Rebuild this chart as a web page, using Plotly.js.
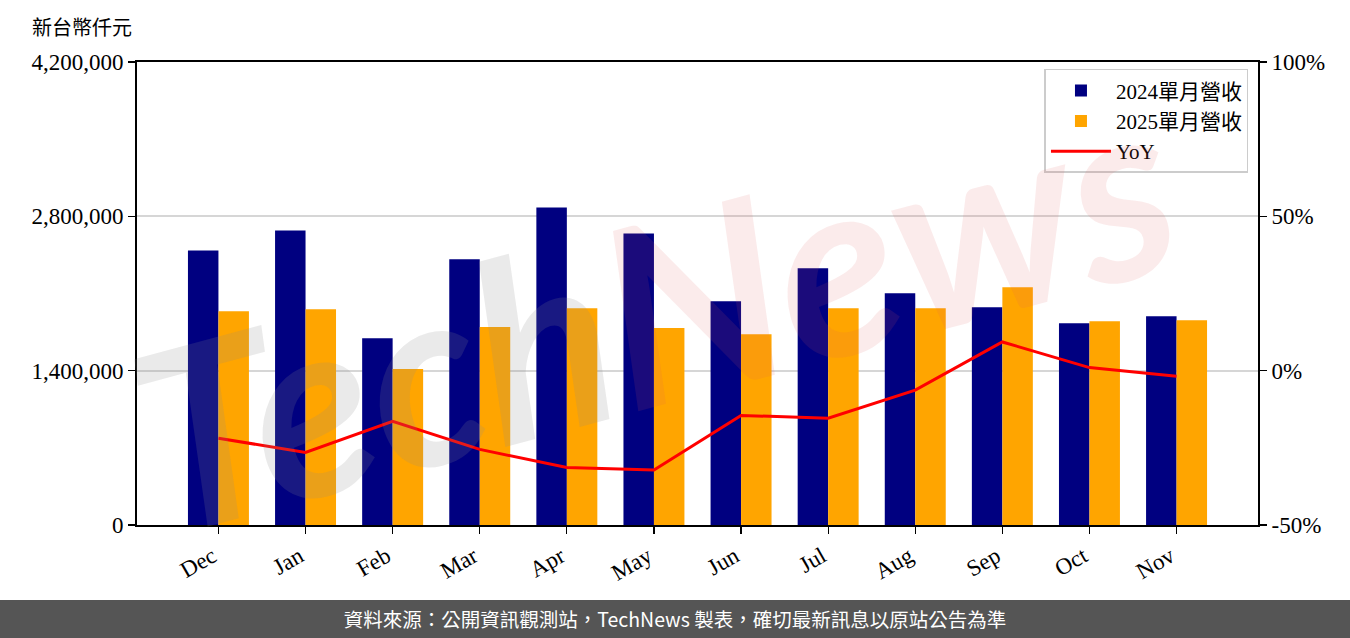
<!DOCTYPE html>
<html>
<head>
<meta charset="utf-8">
<script src="https://cdn.plot.ly/plotly-3.0.1.min.js"></script>
<style>
html,body{margin:0;padding:0;background:#fff;width:1350px;height:638px;overflow:hidden;}
#chart{width:1350px;height:600px;}
#footer{width:1350px;height:38px;background:#555555;color:#fff;font-family:"Noto Sans CJK TC","Noto Sans",sans-serif;font-size:19.5px;line-height:38px;text-align:center;}
</style>
</head>
<body>
<div id="chart"></div>
<div id="footer">資料來源：公開資訊觀測站，TechNews 製表，確切最新訊息以原站公告為準</div>
<script>
const months = ["Dec","Jan","Feb","Mar","Apr","May","Jun","Jul","Aug","Sep","Oct","Nov"];
const rev2024 = [2491000,2672000,1695000,2410000,2880000,2645000,2030000,2328000,2102000,1976000,1831000,1894000];
const rev2025 = [1939000,1957000,1415000,1795000,1967000,1786000,1731000,1967000,1967000,2156000,1849000,1858000];
const yoy = [-21.9,-26.5,-16.4,-25.5,-31.4,-32.2,-14.5,-15.4,-6.3,9.3,1.0,-1.8];
const leftTicks = [0,1400000,2800000,4200000];
const rightTicks = [-50,0,50,100];
const rightTickText = ["-50%","0%","50%","100%"];

const serif = "Liberation Serif, DejaVu Serif, Noto Sans CJK TC, serif";
const idx = months.map((m,i)=>i);

const traces = [
  {type:'bar', name:'2024單月營收', x:idx, y:rev2024, marker:{color:'#000080'}, offsetgroup:'a', hoverinfo:'skip'},
  {type:'bar', name:'2025單月營收', x:idx, y:rev2025, marker:{color:'#FFA500'}, offsetgroup:'b', hoverinfo:'skip'},
  {type:'scatter', mode:'lines', name:'YoY', x:idx, y:yoy, yaxis:'y2', line:{color:'#FF0000', width:3}, hoverinfo:'skip'}
];

const layout = {
  width:1350, height:600,
  margin:{l:137, r:92, t:62, b:75},
  paper_bgcolor:'#fff', plot_bgcolor:'#fff',
  barmode:'group', bargap:0.3, bargroupgap:0,
  showlegend:true,
  legend:{x:0.9915, xanchor:'right', y:0.985, yanchor:'top', bgcolor:'rgba(255,255,255,0.85)', bordercolor:'#cccccc', borderwidth:1.5,
          font:{family:serif, size:21, color:'#000'}, tracegroupgap:0, itemwidth:60},
  xaxis:{range:[-0.935,11.935], tickmode:'array', tickvals:idx, ticktext:months, tickangle:-30,
         tickfont:{family:serif, size:23, color:'#000'}, ticklabelshift:-6,
         showline:true, linecolor:'#000', linewidth:2, mirror:true, ticks:'outside', ticklen:7, tickcolor:'#000', tickwidth:1.2,
         showgrid:false, zeroline:false, fixedrange:true},
  yaxis:{range:[0,4200000], tickmode:'array', tickvals:leftTicks, tickformat:',d',
         tickfont:{family:serif, size:23, color:'#000'},
         showline:true, linecolor:'#000', linewidth:2, ticks:'outside', ticklen:7, tickcolor:'#000', tickwidth:1.5,
         showgrid:true, gridcolor:'#d6d6d6', gridwidth:2, zeroline:false, fixedrange:true},
  yaxis2:{range:[-50,100], overlaying:'y', side:'right', tickmode:'array', tickvals:rightTicks, ticktext:rightTickText,
          tickfont:{family:serif, size:23, color:'#000'},
          showline:true, linecolor:'#000', linewidth:2, ticks:'outside', ticklen:7, tickcolor:'#000', tickwidth:1.5,
          showgrid:false, zeroline:false, fixedrange:true},
  annotations:[
    {xref:'paper', yref:'paper', x:-0.0955, y:1.0756, xanchor:'left', yanchor:'middle', showarrow:false,
     text:'新台幣仟元', font:{family:"Noto Sans CJK TC, sans-serif", size:20, color:'#000'}},
    {xref:'paper', yref:'paper', x:0.46, y:0.47, xanchor:'center', yanchor:'middle', showarrow:false, textangle:-15,
     text:'<i><b><span style="color:rgba(140,140,140,0.18)">Tech</span><span style="color:rgba(220,90,90,0.12)">News</span></b></i>',
     font:{family:"Lato, sans-serif", size:250}}
  ]
};

Plotly.newPlot('chart', traces, layout, {displayModeBar:false, staticPlot:true});
</script>
</body>
</html>
